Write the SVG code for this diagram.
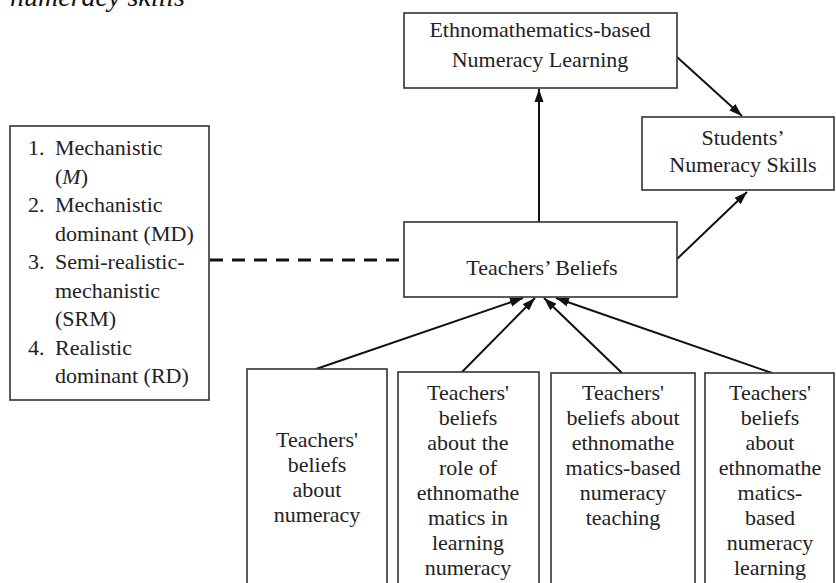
<svg xmlns="http://www.w3.org/2000/svg" width="836" height="583" viewBox="0 0 836 583">
<defs>
<style>
.box{fill:#fff;stroke:#333;stroke-width:1.6}
.t{font-family:"Liberation Serif","Times New Roman",serif;font-size:22px;fill:#222}
.c{text-anchor:middle}
.cap{font-family:"Liberation Serif","Times New Roman",serif;font-style:italic;font-size:28px;fill:#111}
.ln{stroke:#111;stroke-width:2;fill:none}
.dash{stroke:#111;stroke-width:3;stroke-dasharray:13 9;fill:none}
</style>
<marker id="ah" markerUnits="userSpaceOnUse" markerWidth="14" markerHeight="10" refX="13" refY="5" orient="auto">
<path d="M0,0.5 L13,5 L0,9.5 z" fill="#111"/>
</marker>
</defs>
<rect width="836" height="583" fill="#fff"/>
<text class="cap" x="10" y="6">numeracy skills</text>

<g id="connectors">
<line class="dash" x1="210" y1="260" x2="403" y2="260"/>
<line class="ln" x1="539" y1="222" x2="539" y2="89" marker-end="url(#ah)"/>
<line class="ln" x1="677" y1="57" x2="742" y2="116" marker-end="url(#ah)"/>
<line class="ln" x1="677" y1="259" x2="747" y2="192" marker-end="url(#ah)"/>
<line class="ln" x1="316" y1="369" x2="523" y2="298" marker-end="url(#ah)"/>
<line class="ln" x1="462" y1="372" x2="535" y2="298" marker-end="url(#ah)"/>
<line class="ln" x1="622" y1="373" x2="544" y2="298" marker-end="url(#ah)"/>
<line class="ln" x1="772" y1="373" x2="556" y2="298" marker-end="url(#ah)"/>
</g>

<g id="ethno">
<rect class="box" x="404" y="13" width="273" height="75"/>
<text class="t c" x="540" y="37">Ethnomathematics-based</text>
<text class="t c" x="540" y="67">Numeracy Learning</text>
</g>

<g id="students">
<rect class="box" x="642" y="117" width="192" height="73"/>
<text class="t c" x="743" y="145">Students’</text>
<text class="t c" x="743" y="172">Numeracy Skills</text>
</g>

<g id="beliefs">
<rect class="box" x="404" y="222" width="273" height="75"/>
<text class="t c" x="542" y="275">Teachers’ Beliefs</text>
</g>

<g id="types">
<rect class="box" x="10" y="126" width="199" height="274"/>
<text class="t" x="28" y="155">1.</text><text class="t" x="55" y="155">Mechanistic</text>
<text class="t" x="55" y="183.5">(<tspan font-style="italic">M</tspan>)</text>
<text class="t" x="28" y="212">2.</text><text class="t" x="55" y="212">Mechanistic</text>
<text class="t" x="55" y="240.5">dominant (MD)</text>
<text class="t" x="28" y="269">3.</text><text class="t" x="55" y="269">Semi-realistic-</text>
<text class="t" x="55" y="297.5">mechanistic</text>
<text class="t" x="55" y="326">(SRM)</text>
<text class="t" x="28" y="354.5">4.</text><text class="t" x="55" y="354.5">Realistic</text>
<text class="t" x="55" y="383">dominant (RD)</text>
</g>

<g id="b1">
<rect class="box" x="247" y="369" width="140" height="230"/>
<text class="t c" x="317" y="447">Teachers'</text>
<text class="t c" x="317" y="472">beliefs</text>
<text class="t c" x="317" y="497">about</text>
<text class="t c" x="317" y="522">numeracy</text>
</g>

<g id="b2">
<rect class="box" x="398" y="372" width="141" height="230"/>
<text class="t c" x="468" y="400">Teachers'</text>
<text class="t c" x="468" y="425">beliefs</text>
<text class="t c" x="468" y="450">about the</text>
<text class="t c" x="468" y="475">role of</text>
<text class="t c" x="468" y="500">ethnomathe</text>
<text class="t c" x="468" y="525">matics in</text>
<text class="t c" x="468" y="550">learning</text>
<text class="t c" x="468" y="575">numeracy</text>
</g>

<g id="b3">
<rect class="box" x="551" y="373" width="144" height="230"/>
<text class="t c" x="623" y="400">Teachers'</text>
<text class="t c" x="623" y="425">beliefs about</text>
<text class="t c" x="623" y="450">ethnomathe</text>
<text class="t c" x="623" y="475">matics-based</text>
<text class="t c" x="623" y="500">numeracy</text>
<text class="t c" x="623" y="525">teaching</text>
</g>

<g id="b4">
<rect class="box" x="705" y="373" width="129" height="230"/>
<text class="t c" x="770" y="400">Teachers'</text>
<text class="t c" x="770" y="425">beliefs</text>
<text class="t c" x="770" y="450">about</text>
<text class="t c" x="770" y="475">ethnomathe</text>
<text class="t c" x="770" y="500">matics-</text>
<text class="t c" x="770" y="525">based</text>
<text class="t c" x="770" y="550">numeracy</text>
<text class="t c" x="770" y="575">learning</text>
</g>
</svg>
